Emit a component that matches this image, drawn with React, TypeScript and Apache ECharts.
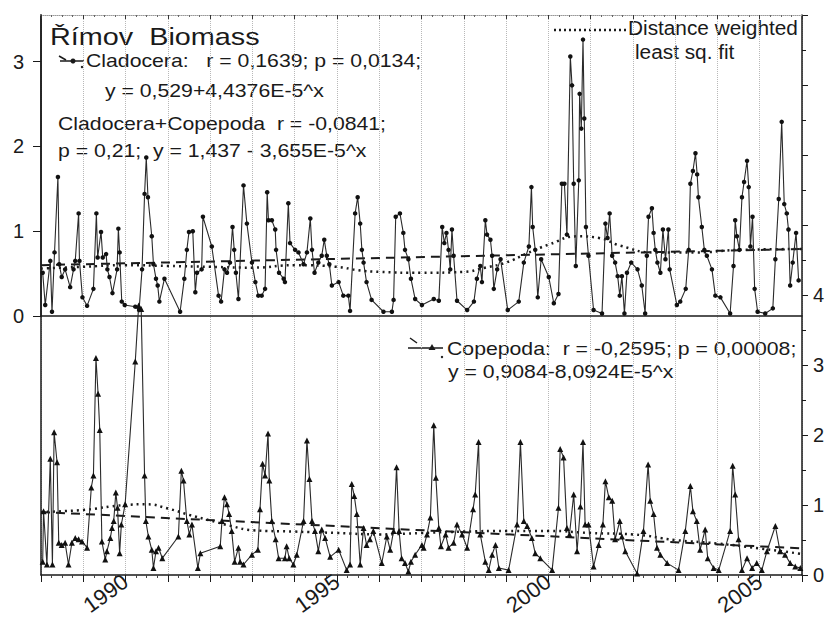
import React, { useEffect, useRef } from "react";
import * as echarts from "echarts";

// ---- Data (year, biomass) ----
const cladocera: number[][] = [
  [1988.04, 0.51], [1988.1, 0.13], [1988.22, 0.65], [1988.26, 0.05], [1988.32, 0.75], [1988.4, 1.64],
  [1988.43, 0.61], [1988.49, 0.46], [1988.57, 0.55], [1988.69, 0.34], [1988.77, 0.55], [1988.81, 0.65],
  [1988.89, 1.21], [1988.91, 0.65], [1988.98, 0.22], [1989.09, 0.12], [1989.24, 0.32], [1989.31, 1.21],
  [1989.34, 0.69], [1989.42, 0.99], [1989.46, 0.69], [1989.54, 0.73], [1989.57, 0.55], [1989.62, 0.46],
  [1989.69, 0.27], [1989.8, 0.55], [1989.83, 1.03], [1989.86, 0.75], [1989.91, 0.17], [1989.98, 0.13],
  [1990.23, 0.11], [1990.32, 0.07], [1990.39, 0.55], [1990.45, 1.44], [1990.49, 1.87], [1990.53, 1.4],
  [1990.62, 0.94], [1990.66, 0.61], [1990.72, 0.44], [1990.76, 0.36], [1990.8, 0.17], [1990.92, 0.44],
  [1991.29, 0.05], [1991.39, 0.44], [1991.45, 0.78], [1991.5, 0.99], [1991.59, 1.0], [1991.65, 0.28],
  [1991.69, 0.51], [1991.8, 0.55], [1991.83, 1.17], [1992.04, 0.82], [1992.2, 0.24], [1992.26, 0.17],
  [1992.34, 0.55], [1992.4, 0.51], [1992.47, 0.63], [1992.53, 1.05], [1992.57, 0.78], [1992.61, 0.51],
  [1992.67, 0.2], [1992.79, 1.54], [1992.87, 1.09], [1992.99, 0.63], [1993.07, 0.4], [1993.14, 0.24],
  [1993.22, 0.24], [1993.3, 0.32], [1993.35, 1.46], [1993.38, 1.13], [1993.46, 1.13], [1993.54, 1.02],
  [1993.56, 0.78], [1993.63, 0.51], [1993.74, 0.44], [1993.77, 0.4], [1993.85, 1.33], [1993.89, 0.86],
  [1994.01, 0.78], [1994.09, 0.75], [1994.21, 0.61], [1994.29, 0.75], [1994.37, 1.15], [1994.41, 0.78],
  [1994.47, 0.51], [1994.56, 0.63], [1994.64, 0.71], [1994.7, 0.9], [1994.76, 0.71], [1994.82, 0.61],
  [1994.88, 0.36], [1995.04, 0.4], [1995.15, 0.24], [1995.27, 0.24], [1995.31, 0.06], [1995.43, 1.21],
  [1995.49, 1.4], [1995.55, 1.09], [1995.59, 0.78], [1995.63, 0.63], [1995.7, 0.4], [1995.82, 0.19],
  [1996.1, 0.05], [1996.3, 0.05], [1996.34, 0.19], [1996.39, 1.17], [1996.49, 1.21], [1996.57, 0.98],
  [1996.61, 0.78], [1996.69, 0.67], [1996.75, 0.44], [1996.85, 0.2], [1997.01, 0.13], [1997.29, 0.2],
  [1997.41, 0.18], [1997.49, 1.05], [1997.54, 0.86], [1997.59, 0.98], [1997.64, 0.78], [1997.68, 0.55],
  [1997.72, 1.02], [1997.76, 0.71], [1997.84, 0.18], [1998.08, 0.07], [1998.24, 0.17], [1998.31, 0.44],
  [1998.39, 0.59], [1998.43, 0.4], [1998.51, 1.13], [1998.55, 0.96], [1998.63, 0.9], [1998.67, 0.71],
  [1998.71, 0.32], [1998.79, 0.55], [1998.87, 0.67], [1999.04, 0.07], [1999.3, 0.17], [1999.42, 0.63],
  [1999.54, 0.82], [1999.6, 1.52], [1999.63, 1.05], [1999.69, 0.78], [1999.75, 0.22], [1999.83, 0.67],
  [2000.01, 0.46], [2000.13, 0.15], [2000.24, 0.26], [2000.32, 1.56], [2000.38, 1.56], [2000.44, 0.96],
  [2000.52, 3.06], [2000.56, 2.72], [2000.6, 1.56], [2000.65, 0.59], [2000.72, 1.6], [2000.74, 2.62],
  [2000.78, 2.21], [2000.82, 3.26], [2000.85, 2.33], [2000.89, 1.05], [2000.95, 0.71], [2001.07, 0.07],
  [2001.27, 0.03], [2001.35, 1.09], [2001.4, 0.92], [2001.45, 1.21], [2001.51, 0.71], [2001.58, 0.63],
  [2001.64, 0.47], [2001.69, 0.24], [2001.74, 0.47], [2001.8, 0.03], [2001.86, 0.51], [2001.96, 0.63],
  [2002.11, 0.55], [2002.21, 0.36], [2002.29, 0.03], [2002.33, 0.71], [2002.37, 1.17], [2002.45, 1.27],
  [2002.49, 0.98], [2002.53, 0.78], [2002.58, 0.63], [2002.65, 0.51], [2002.71, 1.02], [2002.77, 0.67],
  [2002.84, 1.02], [2002.87, 0.55], [2003.04, 0.13], [2003.12, 0.17], [2003.25, 0.32], [2003.32, 0.78],
  [2003.36, 1.56], [2003.42, 1.71], [2003.48, 1.92], [2003.52, 1.67], [2003.55, 1.4], [2003.63, 1.05],
  [2003.69, 0.78], [2003.75, 0.71], [2003.87, 0.55], [2003.95, 0.24], [2004.07, 0.22], [2004.3, 0.03],
  [2004.38, 0.59], [2004.42, 1.13], [2004.46, 0.94], [2004.52, 0.78], [2004.58, 1.4], [2004.63, 1.58],
  [2004.7, 1.83], [2004.74, 1.52], [2004.78, 0.82], [2004.83, 1.17], [2004.88, 0.32], [2004.95, 0.05],
  [2005.13, 0.03], [2005.31, 0.09], [2005.37, 0.67], [2005.45, 1.38], [2005.52, 2.29], [2005.58, 1.32],
  [2005.64, 1.21], [2005.68, 1.02], [2005.72, 0.36], [2005.78, 0.63], [2005.86, 0.98], [2005.92, 0.42],
];

const copepoda: number[][] = [
  [1988.04, 0.19], [1988.06, 0.91], [1988.14, 0.15], [1988.22, 1.66], [1988.27, 0.15], [1988.31, 2.04],
  [1988.38, 1.61], [1988.42, 0.46], [1988.49, 0.43], [1988.57, 0.46], [1988.65, 0.15], [1988.73, 0.46],
  [1988.81, 0.53], [1988.89, 0.51], [1988.97, 0.48], [1989.09, 0.39], [1989.19, 1.25], [1989.24, 1.42],
  [1989.3, 3.1], [1989.35, 2.59], [1989.39, 2.07], [1989.44, 0.48], [1989.52, 0.22], [1989.56, 0.34],
  [1989.64, 0.53], [1989.68, 0.67], [1989.72, 0.77], [1989.77, 1.18], [1989.81, 0.96], [1989.86, 0.31],
  [1989.9, 0.72], [1989.99, 1.01], [1990.23, 3.05], [1990.31, 3.85], [1990.37, 3.8], [1990.45, 1.42],
  [1990.48, 0.77], [1990.54, 0.55], [1990.62, 0.36], [1990.66, 0.1], [1990.72, 0.34], [1990.78, 0.39],
  [1990.87, 0.24], [1991.25, 0.55], [1991.32, 1.49], [1991.37, 1.35], [1991.45, 0.77], [1991.51, 0.58],
  [1991.57, 0.72], [1991.71, 0.1], [1991.77, 0.31], [1992.24, 0.41], [1992.28, 0.77], [1992.34, 1.11],
  [1992.4, 1.01], [1992.45, 0.87], [1992.51, 0.63], [1992.58, 0.19], [1992.67, 0.39], [1992.71, 0.19],
  [1992.79, 0.15], [1992.99, 0.29], [1993.13, 0.36], [1993.18, 0.94], [1993.24, 1.59], [1993.3, 1.42],
  [1993.37, 2.02], [1993.4, 1.35], [1993.46, 0.77], [1993.55, 0.51], [1993.62, 0.24], [1993.77, 0.24],
  [1993.81, 0.41], [1993.87, 0.24], [1993.97, 0.15], [1994.05, 0.29], [1994.21, 0.77], [1994.29, 1.92],
  [1994.35, 1.37], [1994.41, 0.77], [1994.48, 0.63], [1994.56, 0.34], [1994.64, 0.65], [1994.72, 0.53],
  [1994.84, 0.26], [1995.04, 0.36], [1995.23, 0.07], [1995.31, 0.15], [1995.35, 1.3], [1995.41, 1.13],
  [1995.47, 0.87], [1995.55, 0.15], [1995.63, 0.67], [1995.7, 0.43], [1995.78, 0.51], [1995.86, 0.63],
  [1996.06, 0.17], [1996.18, 0.55], [1996.26, 0.36], [1996.34, 0.63], [1996.41, 1.54], [1996.47, 0.63],
  [1996.53, 0.24], [1996.61, 0.17], [1996.69, 0.05], [1996.75, 0.19], [1996.85, 0.29], [1997.01, 0.43],
  [1997.05, 0.39], [1997.13, 0.58], [1997.21, 0.82], [1997.29, 2.14], [1997.34, 1.39], [1997.41, 0.67],
  [1997.46, 0.41], [1997.57, 0.58], [1997.64, 0.39], [1997.76, 0.46], [1997.84, 0.72], [1997.96, 0.58],
  [1998.08, 0.39], [1998.22, 0.94], [1998.27, 1.15], [1998.35, 1.9], [1998.39, 0.58], [1998.51, 0.19],
  [1998.59, 0.07], [1998.67, 0.29], [1998.75, 0.43], [1998.83, 0.1], [1999.06, 0.07], [1999.26, 0.72],
  [1999.34, 1.9], [1999.42, 0.77], [1999.5, 0.7], [1999.61, 0.53], [1999.69, 0.31], [1999.81, 0.24],
  [2000.09, 0.07], [2000.24, 0.96], [2000.28, 1.8], [2000.36, 1.68], [2000.44, 0.67], [2000.5, 0.58],
  [2000.6, 1.15], [2000.68, 0.34], [2000.76, 0.98], [2000.82, 1.9], [2000.87, 0.72], [2000.95, 0.72],
  [2001.07, 0.12], [2001.19, 0.43], [2001.29, 0.72], [2001.35, 1.34], [2001.43, 1.11], [2001.51, 1.06],
  [2001.58, 0.51], [2001.69, 0.77], [2001.74, 0.55], [2001.82, 0.34], [2002.1, 0.02], [2002.25, 0.63],
  [2002.36, 1.58], [2002.41, 1.06], [2002.49, 0.87], [2002.57, 0.39], [2002.65, 0.29], [2002.81, 0.17],
  [2003.08, 0.07], [2003.24, 0.63], [2003.36, 1.27], [2003.42, 0.91], [2003.51, 0.77], [2003.59, 0.36],
  [2003.71, 0.65], [2003.77, 0.24], [2003.91, 0.1], [2004.03, 0.07], [2004.3, 0.63], [2004.36, 1.56],
  [2004.42, 1.15], [2004.5, 0.51], [2004.58, 0.07], [2004.7, 0.24], [2004.82, 0.1], [2004.93, 0.17],
  [2005.05, 0.07], [2005.17, 0.34], [2005.37, 0.7], [2005.48, 0.34], [2005.6, 0.29], [2005.72, 0.17],
  [2005.84, 0.12], [2005.96, 0.1],
];

const cladoceraLinear: number[][] = [[1988, 0.6], [2006, 0.79]];
const cladoceraDwls: number[][] = [
  [1988, 0.56], [1989, 0.58], [1990, 0.6], [1991, 0.59], [1992, 0.58], [1993, 0.57], [1994, 0.6],
  [1995, 0.58], [1995.5, 0.54], [1996, 0.52], [1997, 0.51], [1998, 0.52], [1998.5, 0.57], [1999, 0.63],
  [1999.5, 0.74], [2000, 0.84], [2000.7, 0.94], [2001.2, 0.92], [2001.7, 0.83], [2002.5, 0.75],
  [2003.5, 0.75], [2004.5, 0.78], [2006, 0.79],
];
const copepodaLinear: number[][] = [[1988, 0.9], [2006, 0.38]];
const copepodaDwls: number[][] = [
  [1988, 0.9], [1989, 0.93], [1990, 1.0], [1990.5, 1.01], [1991, 0.95], [1991.5, 0.86], [1992, 0.78],
  [1992.5, 0.7], [1993, 0.64], [1994, 0.62], [1995, 0.6], [1996, 0.58], [1997, 0.6], [1998, 0.62],
  [1999, 0.63], [2000, 0.63], [2001, 0.6], [2002, 0.58], [2003, 0.5], [2004, 0.45], [2005, 0.38], [2006, 0.3],
];

const topTicks = [0, 1, 2, 3];
const rightLabels = [0, 1, 2, 3, 4];
const yearLabels = [1990, 1995, 2000, 2005];

const FONT = "Liberation Sans, Arial, sans-serif";

function txt(text: string, x: number, y: number, size: number, sx: number) {
  return {
    type: "text",
    x,
    y,
    scaleX: sx,
    scaleY: 1,
    silent: true,
    style: { text, fontSize: size, fontFamily: FONT, fill: "#1a1a1a", align: "left", verticalAlign: "middle" },
  };
}

export default function App() {
  const ref = useRef<HTMLDivElement>(null);
  useEffect(() => {
    if (!ref.current) return;
    const chart = echarts.init(ref.current, undefined, { renderer: "svg" });
    const ink = "#1a1a1a";
    const option: any = {
      animation: false,
      backgroundColor: "#fff",
      grid: [
        { left: 41, right: 26, top: 15, height: 301, outerBoundsMode: "none", containLabel: false },
        { left: 41, right: 26, top: 15, bottom: 42, outerBoundsMode: "none", containLabel: false },
      ],
      xAxis: [
        {
          gridIndex: 0, type: "value", min: 1988, max: 2006, interval: 1,
          axisLine: { show: true, onZero: false, lineStyle: { color: ink, width: 1.5 } },
          axisTick: { show: false }, axisLabel: { show: false }, splitLine: { show: false },
        },
        {
          gridIndex: 1, type: "value", min: 1988, max: 2006, interval: 1, position: "bottom",
          axisLine: { show: true, onZero: false, lineStyle: { color: ink, width: 1.5 } },
          axisTick: { show: true, length: 7, lineStyle: { color: ink } },
          minorTick: { show: true, splitNumber: 4, length: 3, lineStyle: { color: "#444" } },
          axisLabel: {
            rotate: 36, fontSize: 22, fontFamily: FONT, color: ink, margin: 4,
            formatter: (v: number) => (yearLabels.includes(v) ? String(v) : ""),
          },
          splitLine: { show: true, lineStyle: { color: "#b8b8b8", type: "dotted", width: 1 } },
        },
        {
          gridIndex: 1, type: "value", min: 1988, max: 2006, interval: 1, position: "top",
          axisLine: { show: true, onZero: false, lineStyle: { color: "#9a9a9a", width: 1, type: "dotted" } },
          axisTick: { show: true, inside: true, length: 4, lineStyle: { color: "#333" } },
          minorTick: { show: true, splitNumber: 4, length: 2, lineStyle: { color: "#666" } },
          axisLabel: { show: false }, splitLine: { show: false },
        },
      ],
      yAxis: [
        {
          gridIndex: 0, type: "value", min: 0, max: 3.55, interval: 1, position: "left",
          axisLine: { show: true, onZero: false, lineStyle: { color: ink, width: 1.5 } },
          axisTick: { show: true, length: 8, customValues: topTicks, lineStyle: { color: ink } },
          axisLabel: {
            fontSize: 20, fontFamily: FONT, color: ink, margin: 17, customValues: topTicks,
            formatter: (v: number) => (topTicks.includes(v) ? String(v) : ""),
          },
          splitLine: { show: false },
        },
        {
          gridIndex: 1, type: "value", min: 0, max: 8, position: "left",
          axisLine: { show: true, onZero: false, lineStyle: { color: ink, width: 1.5 } },
          axisTick: { show: false }, axisLabel: { show: false }, splitLine: { show: false },
        },
        {
          gridIndex: 1, type: "value", min: 0, max: 8, interval: 1, position: "right",
          axisLine: { show: true, onZero: false, lineStyle: { color: ink, width: 1.5 } },
          axisTick: { show: true, length: 6, lineStyle: { color: ink } },
          minorTick: { show: true, splitNumber: 2, length: 4, lineStyle: { color: ink } },
          axisLabel: {
            fontSize: 20, fontFamily: FONT, color: ink, margin: 11,
            formatter: (v: number) => (rightLabels.includes(v) ? String(v) : ""),
          },
          splitLine: { show: false },
        },
      ],
      series: [
        {
          type: "line", name: "Cladocera DWLS", xAxisIndex: 0, yAxisIndex: 0, data: cladoceraDwls,
          smooth: true, showSymbol: false, lineStyle: { color: ink, width: 2.5, type: [2, 4] },
        },
        {
          type: "line", name: "Cladocera linear", xAxisIndex: 0, yAxisIndex: 0, data: cladoceraLinear,
          showSymbol: false, lineStyle: { color: ink, width: 2, type: [9, 6] },
        },
        {
          type: "line", name: "Cladocera", xAxisIndex: 0, yAxisIndex: 0, data: cladocera,
          symbol: "circle", symbolSize: 4.5, itemStyle: { color: "#111" },
          lineStyle: { color: "#2a2a2a", width: 1.1 },
        },
        {
          type: "line", name: "Copepoda DWLS", xAxisIndex: 1, yAxisIndex: 2, data: copepodaDwls,
          smooth: true, showSymbol: false, lineStyle: { color: ink, width: 2.5, type: [2, 4] },
        },
        {
          type: "line", name: "Copepoda linear", xAxisIndex: 1, yAxisIndex: 2, data: copepodaLinear,
          showSymbol: false, lineStyle: { color: ink, width: 2, type: [9, 6] },
        },
        {
          type: "line", name: "Copepoda", xAxisIndex: 1, yAxisIndex: 2, data: copepoda,
          symbol: "triangle", symbolSize: 6, itemStyle: { color: "#111" },
          lineStyle: { color: "#2a2a2a", width: 1.1 },
        },
      ],
      graphic: [
        txt("Římov  Biomass", 50, 37, 24, 1.2),
        // Cladocera legend glyph
        { type: "line", silent: true, shape: { x1: 59, y1: 56, x2: 66, y2: 60 }, style: { stroke: ink, lineWidth: 1.5 } },
        { type: "line", silent: true, shape: { x1: 60, y1: 61, x2: 84, y2: 61 }, style: { stroke: ink, lineWidth: 1.5 } },
        { type: "circle", silent: true, shape: { cx: 73, cy: 61, r: 2.5 }, style: { fill: ink } },
        { type: "circle", silent: true, shape: { cx: 82, cy: 67, r: 1.2 }, style: { fill: ink } },
        txt("Cladocera:   r = 0,1639; p = 0,0134;", 86, 61, 18, 1.18),
        txt("y = 0,529+4,4376E-5^x", 105, 91, 18, 1.18),
        txt("Cladocera+Copepoda  r = -0,0841;", 58, 124, 18, 1.18),
        txt("p = 0,21;  y = 1,437 - 3,655E-5^x", 58, 151, 18, 1.18),
        // Copepoda legend glyph
        { type: "line", silent: true, shape: { x1: 410, y1: 338, x2: 417, y2: 343 }, style: { stroke: ink, lineWidth: 1.5 } },
        { type: "line", silent: true, shape: { x1: 408, y1: 348, x2: 443, y2: 348 }, style: { stroke: ink, lineWidth: 1.5 } },
        { type: "polygon", silent: true, shape: { points: [[432, 344], [428.5, 350], [435.5, 350]] }, style: { fill: ink } },
        { type: "circle", silent: true, shape: { cx: 442, cy: 357, r: 1.2 }, style: { fill: ink } },
        txt("Copepoda:  r = -0,2595; p = 0,00008;", 447, 349, 18, 1.18),
        txt("y = 0,9084-8,0924E-5^x", 448, 372, 18, 1.18),
        // DWLS legend
        { type: "line", silent: true, shape: { x1: 554, y1: 30, x2: 626, y2: 30 }, style: { stroke: ink, lineWidth: 2.5, lineDash: [2, 3] } },
        txt("Distance weighted", 628, 28, 20, 1.04),
        txt("least sq. fit", 635, 52, 20, 1.04),
      ],
    };
    chart.setOption(option);
    return () => chart.dispose();
  }, []);
  return (
    <div
      ref={ref}
      style={{ position: "fixed", left: 0, top: 0, width: 828, height: 617, background: "#fff" }}
    />
  );
}
